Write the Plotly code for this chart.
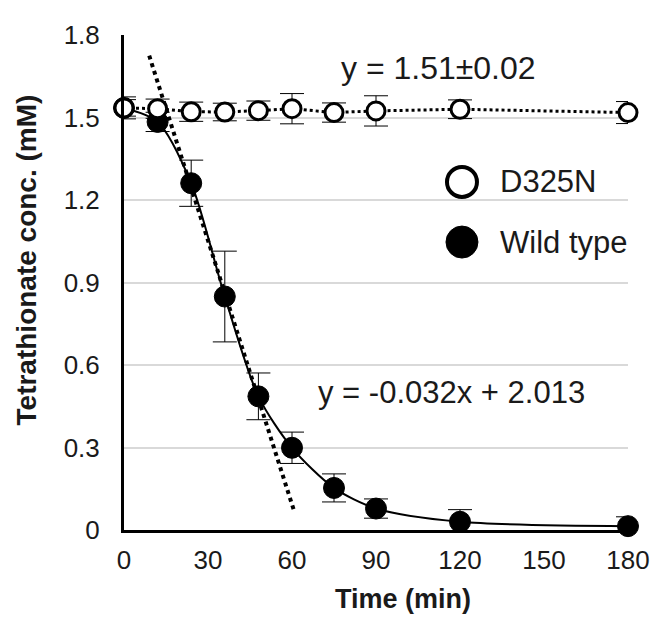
import plotly.graph_objects as go

# ---- data ----
time_min = [0, 12, 24, 36, 48, 60, 75, 90, 120, 180]

d325n_conc = [1.535, 1.532, 1.521, 1.520, 1.525, 1.532, 1.518, 1.524, 1.530, 1.518]
d325n_err = [0.040, 0.035, 0.035, 0.032, 0.035, 0.055, 0.035, 0.055, 0.034, 0.040]

wt_conc = [1.535, 1.484, 1.261, 0.849, 0.486, 0.299, 0.153, 0.078, 0.030, 0.014]
wt_err = [0.030, 0.035, 0.084, 0.165, 0.085, 0.057, 0.051, 0.035, 0.044, 0.034]

trend_x = [9, 61]
trend_y = [1.725, 0.061]

x_ticks = [0, 30, 60, 90, 120, 150, 180]
y_ticks = [0, 0.3, 0.6, 0.9, 1.2, 1.5, 1.8]
y_tick_text = ["0", "0.3", "0.6", "0.9", "1.2", "1.5", "1.8"]

series_names = ["D325N", "Wild type"]
eq_d325n = "y = 1.51\u00b10.02"
eq_wt = "y = -0.032x + 2.013"

FONT = "Liberation Sans, Arial, sans-serif"
TXT = "#1a1a1a"

fig = go.Figure()

# Wild type: smoothed solid line with filled markers
fig.add_trace(go.Scatter(
    x=time_min, y=wt_conc, mode="lines+markers",
    line=dict(color="black", width=2, shape="spline", smoothing=0.8),
    marker=dict(symbol="circle", size=21, color="black", line=dict(color="black", width=1)),
    error_y=dict(type="data", array=wt_err, visible=True, color="black", thickness=1, width=12),
    cliponaxis=False, showlegend=False, name=series_names[1],
))

# linear fit for wild type (dotted)
fig.add_trace(go.Scatter(
    x=trend_x, y=trend_y, mode="lines",
    line=dict(color="black", width=4, dash="dot"),
    showlegend=False, cliponaxis=False,
))

# D325N: dotted line with open markers
fig.add_trace(go.Scatter(
    x=time_min, y=d325n_conc, mode="lines+markers",
    line=dict(color="black", width=3, dash="dot"),
    marker=dict(symbol="circle", size=18, color="white", line=dict(color="black", width=3)),
    error_y=dict(type="data", array=d325n_err, visible=True, color="black", thickness=1, width=12),
    cliponaxis=False, showlegend=False, name=series_names[0],
))

# page body has an 8px margin, so the figure is sized/offset to compensate
fig.update_layout(
    width=654, height=609,
    margin=dict(l=116, r=25, t=20, b=87),
    paper_bgcolor="white", plot_bgcolor="white",
    font=dict(family=FONT, color=TXT),
    showlegend=False,
    xaxis=dict(
        range=[0, 180], tickvals=x_ticks, ticktext=[str(v) for v in x_ticks],
        showgrid=False, zeroline=False, showline=True, linecolor="black", linewidth=3,
        ticks="", tickfont=dict(size=26, family=FONT, color=TXT), ticklabelstandoff=5,
    ),
    yaxis=dict(
        range=[0, 1.8], tickvals=y_ticks, ticktext=y_tick_text,
        showgrid=True, gridcolor="#d9d9d9", gridwidth=1.5, zeroline=False,
        showline=True, linecolor="black", linewidth=3,
        ticks="", tickfont=dict(size=26, family=FONT, color=TXT), ticklabelstandoff=16,
    ),
)

# custom legend
fig.add_shape(type="circle", xref="paper", yref="paper", xsizemode="pixel", ysizemode="pixel",
              xanchor=0.6706, yanchor=0.7032, x0=-15, x1=15, y0=-15, y1=15,
              line=dict(color="black", width=4), fillcolor="white")
fig.add_shape(type="circle", xref="paper", yref="paper", xsizemode="pixel", ysizemode="pixel",
              xanchor=0.6706, yanchor=0.5817, x0=-16, x1=16, y0=-16, y1=16,
              line=dict(color="black", width=1), fillcolor="black")

ann = [
    dict(text=series_names[0], x=0.7427, y=0.7032, xanchor="left", yanchor="middle", font=dict(size=31)),
    dict(text=series_names[1], x=0.7427, y=0.5817, xanchor="left", yanchor="middle", font=dict(size=31)),
    dict(text=eq_d325n, x=0.624, y=0.934, xanchor="center", yanchor="middle", font=dict(size=32)),
    dict(text=eq_wt, x=0.650, y=0.277, xanchor="center", yanchor="middle", font=dict(size=31)),
    dict(text="<b>Time (min)</b>", x=0.553, y=-0.140, xanchor="center", yanchor="middle", font=dict(size=27)),
    dict(text="<b>Tetrathionate conc. (mM)</b>", x=-0.193, y=0.546, xanchor="center", yanchor="middle",
         textangle=-90, font=dict(size=28)),
]
for a in ann:
    a.update(xref="paper", yref="paper", showarrow=False)
    a["font"].update(family=FONT, color=TXT)
    fig.add_annotation(**a)

fig.write_html("out.html")
